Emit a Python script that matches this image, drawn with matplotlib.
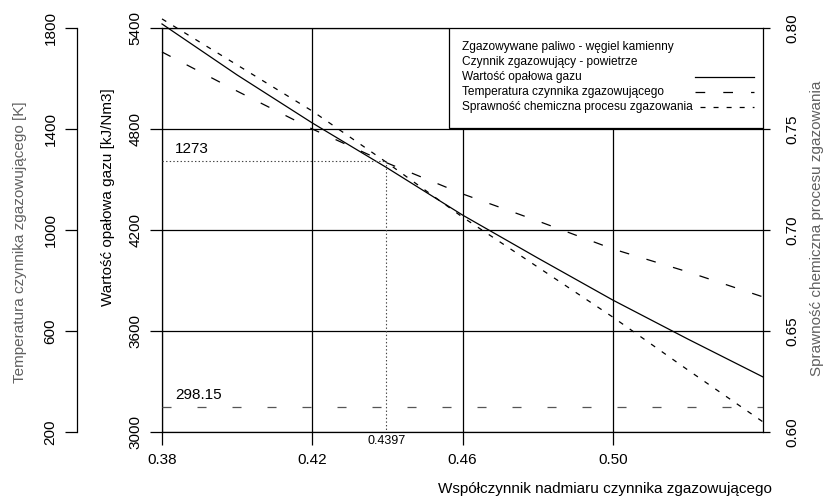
import matplotlib
matplotlib.use('Agg')
import matplotlib.pyplot as plt
import matplotlib.transforms as mtrans
import numpy as np

plt.rcParams['font.family'] = ['Liberation Sans', 'DejaVu Sans']
plt.rcParams['lines.scale_dashes'] = False

# wspolczynnik nadmiaru czynnika zgazowujacego
x = [0.38, 0.40, 0.42, 0.44, 0.46, 0.48, 0.50, 0.52, 0.54]
# wartosc opalowa gazu [kJ/Nm3]
wartosc = [5424, 5121, 4836, 4568, 4289, 4034, 3784, 3552, 3327]
# temperatura czynnika zgazowujacego [K]
temperatura = [1705, 1550, 1400, 1265, 1143, 1036, 925, 834, 735]
# sprawnosc chemiczna procesu zgazowania
sprawnosc = [0.8045, 0.7817, 0.7589, 0.7332, 0.7064, 0.6817, 0.6569, 0.6307, 0.6050]

x_opt = 0.4397
t_opt = 1273
t_otoczenia = 298.15

xticks = [0.38, 0.42, 0.46, 0.50]
yticks_w = [3000, 3600, 4200, 4800, 5400]
yticks_t = [200, 600, 1000, 1400, 1800]
yticks_s = [0.60, 0.65, 0.70, 0.75, 0.80]

legenda = ['Zgazowywane paliwo - węgiel kamienny',
           'Czynnik zgazowujący - powietrze',
           'Wartość opałowa gazu',
           'Temperatura czynnika zgazowującego',
           'Sprawność chemiczna procesu zgazowania']

W, H = 827, 499
fig = plt.figure(figsize=(W / 100, H / 100), dpi=100)
ax = fig.add_axes([162 / W, (H - 432) / H, (763 - 162) / W, (432 - 28) / H])

lw = 0.9
dash_temp = (7.0, 13.0)
dash_spr = (3.6, 5.8)

# main axis
ax.set_xlim(0.38, 0.54)
ax.set_ylim(3000, 5400)
ax.set_xticks(xticks)
ax.set_xticklabels(['%.2f' % v for v in xticks])
ax.set_yticks(yticks_w)
ax.grid(True, color='black', lw=lw)
ax.tick_params(axis='both', direction='out', length=9, width=lw, labelsize=11)
ax.tick_params(axis='x', pad=6)
ax.tick_params(axis='y', pad=5, labelrotation=90)
for lab in ax.get_yticklabels():
    lab.set_va('center')
for s in ax.spines.values():
    s.set_linewidth(lw)
ax.plot(x, wartosc, color='black', lw=lw, clip_on=False, zorder=3)

# right axis - sprawnosc
ax2 = ax.twinx()
ax2.set_ylim(0.60, 0.80)
ax2.set_yticks(yticks_s)
ax2.set_yticklabels(['%.2f' % v for v in yticks_s])
ax2.tick_params(axis='y', direction='out', length=5, width=lw, labelsize=11, pad=11,
                labelrotation=90)
for lab in ax2.get_yticklabels():
    lab.set_va('center')
for s in ax2.spines.values():
    s.set_visible(False)
ax2.plot(x, sprawnosc, color='black', lw=lw, ls=(0, dash_spr), clip_on=False, zorder=3)

# left outer axis - temperatura
ax3 = ax.twinx()
ax3.set_ylim(200, 1800)
ax3.set_yticks(yticks_t)
ax3.spines['left'].set_position(('axes', (77 - 162) / (763 - 162)))
ax3.spines['left'].set_linewidth(lw)
for k in ['right', 'top', 'bottom']:
    ax3.spines[k].set_visible(False)
ax3.spines['left'].set_visible(True)
ax3.yaxis.set_ticks_position('left')
ax3.tick_params(axis='y', direction='out', length=9, width=lw, labelsize=11, pad=5,
                labelrotation=90)
for lab in ax3.get_yticklabels():
    lab.set_va('center')
ax3.plot(x, temperatura, color='black', lw=lw, ls=(0, dash_temp), clip_on=False, zorder=3)
ax3.plot([0.38, 0.54], [t_otoczenia, t_otoczenia], color='#555555', lw=lw,
         ls=(0, (6.5, 18.7)), zorder=3)
ax3.plot([0.38, x_opt, x_opt], [t_opt, t_opt, 200], color='#444444', lw=0.8,
         ls=(0, (1, 1.6)), zorder=3)
ax3.text(0.3835, t_opt + 22, '%d' % t_opt, fontsize=11, va='bottom', ha='left')
ax3.text(0.3835, t_otoczenia + 22, '%.2f' % t_otoczenia, fontsize=11, va='bottom', ha='left')
trans = mtrans.blended_transform_factory(ax.transData, ax.transAxes)
ax.text(x_opt, -0.008, '%.4f' % x_opt, transform=trans, fontsize=9, ha='center', va='top')

# legend drawn by hand
box = plt.Rectangle((0.4775, 0.7525), 0.5225, 0.2475, transform=ax.transAxes,
                    facecolor='white', edgecolor='black', lw=lw, zorder=5)
ax3.add_patch(box)
ys = [0.953, 0.916, 0.879, 0.842, 0.804]
for txt, yy in zip(legenda, ys):
    ax3.text(0.4985, yy, txt, transform=ax.transAxes, fontsize=8.6, va='center',
             ha='left', zorder=6)
styles = [None, None, '-', (0, dash_temp), (0, dash_spr)]
x0s = [None, None, 0.887, 0.887, 0.895]
for st, yy, x0 in zip(styles, ys, x0s):
    if st is None:
        continue
    ax3.plot([x0, 0.985], [yy, yy], transform=ax.transAxes, color='black',
             lw=lw, ls=st, zorder=6)

# axis labels
fig.text(20 / W, 1 - 242 / H, 'Temperatura czynnika zgazowującego [K]', rotation=90,
         fontsize=11, color='#606060', ha='center', va='center')
fig.text(108 / W, 1 - 197 / H, 'Wartość opałowa gazu [kJ/Nm3]', rotation=90,
         fontsize=11, color='black', ha='center', va='center')
fig.text(817 / W, 1 - 228 / H, 'Sprawność chemiczna procesu zgazowania', rotation=90,
         fontsize=11, color='#606060', ha='center', va='center')
fig.text(772 / W, 1 - 489 / H, 'Współczynnik nadmiaru czynnika zgazowującego',
         fontsize=11, color='black', ha='right', va='center')

fig.savefig('out.png', dpi=100)
